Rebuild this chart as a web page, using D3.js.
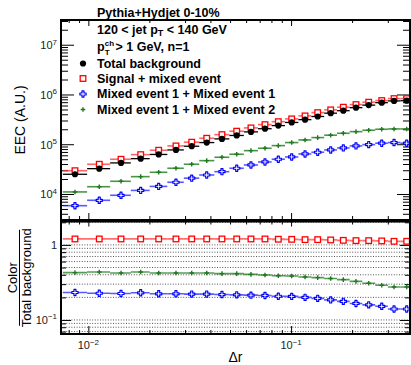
<!DOCTYPE html>
<html><head><meta charset="utf-8">
<script src="https://cdn.jsdelivr.net/npm/d3@7"></script>
<style>
body{margin:0;background:#fff}
svg{display:block}
text{font-family:"Liberation Sans",Arial,Helvetica,sans-serif}
</style>
</head><body>
<svg id="c" width="411" height="365"></svg>
<script>
// ---------- data ----------
const deltaR = [0.00859,0.01132,0.01449,0.01812,0.02223,0.02705,0.03235,0.03836,0.04561,0.05393,0.0634,0.07435,0.0865,0.1007,0.1172,0.1353,0.1568,0.181,0.209,0.2415,0.28,0.322,0.3718];
const totalBackground = [2.49e4,3.23e4,4.21e4,5.13e4,6.23e4,7.68e4,9.12e4,1.08e5,1.28e5,1.50e5,1.77e5,2.05e5,2.37e5,2.74e5,3.12e5,3.61e5,4.21e5,4.72e5,5.43e5,6.11e5,6.85e5,7.42e5,7.5e5];
const signalMixed = [2.94e4,3.96e4,4.99e4,6.18e4,7.57e4,9.25e4,1.10e5,1.32e5,1.56e5,1.83e5,2.13e5,2.48e5,2.84e5,3.23e5,3.71e5,4.32e5,4.90e5,5.55e5,6.26e5,7.00e5,7.54e5,8.27e5,8.27e5];
const mixed11 = [5.82e3,7.47e3,9.42e3,1.18e4,1.42e4,1.72e4,2.08e4,2.41e4,2.81e4,3.29e4,3.83e4,4.40e4,4.99e4,5.55e4,6.38e4,6.90e4,7.68e4,8.43e4,9.25e4,9.82e4,1.05e5,1.08e5,1.05e5];
const mixed12 = [1.10e4,1.40e4,1.80e4,2.23e4,2.73e4,3.29e4,3.96e4,4.68e4,5.47e4,6.29e4,7.43e4,8.31e4,9.38e4,1.08e5,1.22e5,1.36e5,1.52e5,1.66e5,1.79e5,1.91e5,2.00e5,2.03e5,2.03e5];
const ratioSignal = [1.20,1.20,1.20,1.20,1.20,1.20,1.20,1.20,1.20,1.20,1.20,1.20,1.19,1.186,1.175,1.175,1.164,1.15,1.14,1.14,1.13,1.116,1.116];
const ratioMixed11 = [0.232,0.227,0.225,0.230,0.223,0.223,0.221,0.221,0.218,0.216,0.214,0.212,0.207,0.206,0.200,0.194,0.185,0.177,0.166,0.159,0.152,0.140,0.140];
const ratioMixed12 = [0.427,0.435,0.422,0.435,0.422,0.422,0.422,0.422,0.414,0.414,0.405,0.397,0.389,0.385,0.373,0.366,0.356,0.345,0.327,0.308,0.290,0.275,0.275];
const legendLabels = ["Total background","Signal + mixed event","Mixed event 1 + Mixed event 1","Mixed event 1 + Mixed event 2"];
const titleText = "Pythia+Hydjet 0-10%";
const xMajorTicks = [0.01, 0.1];
const xTickExponents = ["\u22122", "\u22121"];
const yTopMajorTicks = [1e4, 1e5, 1e6, 1e7];
const yTopTickExponents = ["4", "5", "6", "7"];
const yBotMajorTicks = [0.1, 1];

// ---------- layout ----------
const L = 61, R = 410, T1 = 20, B1 = 220, T2 = 221.5, B2 = 334;
const svg = d3.select("#c");
const x = d3.scaleLog().domain([0.00733, 0.386]).range([L, R]);
const y1 = d3.scaleLog().domain([3000, 3.14e7]).range([B1, T1]);
const y2 = d3.scaleLog().domain([0.065, 2.05]).range([B2, T2]);

function minorTicks(domain) {
  const out = [];
  const lo = Math.floor(Math.log10(domain[0])), hi = Math.ceil(Math.log10(domain[1]));
  for (let d = lo; d <= hi; d++) for (let m = 1; m <= 9; m++) {
    const v = m * Math.pow(10, d);
    if (v >= domain[0] * 1.0001 && v <= domain[1] * 0.9999) out.push(v);
  }
  return out;
}
const xMin = minorTicks(x.domain());
const y1Min = minorTicks(y1.domain());
const y2Min = minorTicks(y2.domain());

const defs = svg.append("defs");
defs.append("clipPath").attr("id","clipTop").append("rect").attr("x",L).attr("y",T1).attr("width",R-L).attr("height",B1-T1);
defs.append("clipPath").attr("id","clipBot").append("rect").attr("x",L).attr("y",T2).attr("width",R-L).attr("height",B2-T2);

// ---------- grid (lower panel) ----------
svg.append("g").selectAll("line").data(y2Min).join("line")
  .attr("x1", L).attr("x2", R).attr("y1", d => y2(d)).attr("y2", d => y2(d))
  .attr("stroke", "#555").attr("stroke-width", 1).attr("stroke-dasharray", "1,1.6");

// ---------- ticks ----------
function drawTicks(axisFn, scale, values, size, transform) {
  const g = svg.append("g").attr("transform", transform)
    .call(axisFn(scale).tickValues(values).tickSize(size).tickSizeOuter(0).tickFormat(""));
  g.select(".domain").remove();
  g.selectAll("line").attr("stroke", "#000").attr("stroke-width", 1);
}
const isMajor = v => Math.abs(Math.log10(v) - Math.round(Math.log10(v))) < 1e-6;
// top panel
drawTicks(d3.axisLeft, y1, y1Min.filter(v=>!isMajor(v)), -7, `translate(${L},0)`);
drawTicks(d3.axisLeft, y1, y1Min.filter(isMajor), -13, `translate(${L},0)`);
drawTicks(d3.axisRight, y1, y1Min.filter(v=>!isMajor(v)), -7, `translate(${R},0)`);
drawTicks(d3.axisRight, y1, y1Min.filter(isMajor), -13, `translate(${R},0)`);
drawTicks(d3.axisBottom, x, xMin.filter(v=>!isMajor(v)), -4, `translate(0,${B1})`);
drawTicks(d3.axisBottom, x, xMin.filter(isMajor), -7, `translate(0,${B1})`);
drawTicks(d3.axisTop, x, xMin.filter(v=>!isMajor(v)), -3, `translate(0,${T1})`);
drawTicks(d3.axisTop, x, xMin.filter(isMajor), -6, `translate(0,${T1})`);
// lower panel
drawTicks(d3.axisLeft, y2, y2Min.filter(v=>!isMajor(v)), -5, `translate(${L},0)`);
drawTicks(d3.axisLeft, y2, y2Min.filter(isMajor), -10, `translate(${L},0)`);
drawTicks(d3.axisRight, y2, y2Min.filter(v=>!isMajor(v)), -5, `translate(${R},0)`);
drawTicks(d3.axisRight, y2, y2Min.filter(isMajor), -10, `translate(${R},0)`);
drawTicks(d3.axisTop, x, xMin.filter(v=>!isMajor(v)), -3, `translate(0,${T2})`);
drawTicks(d3.axisTop, x, xMin.filter(isMajor), -5, `translate(0,${T2})`);
drawTicks(d3.axisBottom, x, xMin.filter(v=>!isMajor(v)), -4, `translate(0,${B2})`);
drawTicks(d3.axisBottom, x, xMin.filter(isMajor), -8, `translate(0,${B2})`);

// ---------- bins ----------
const lc = deltaR.map(Math.log10);
const binLo = lc.map((v,i)=> Math.pow(10, i===0 ? v-(lc[1]-lc[0])/2 : (v+lc[i-1])/2));
const binHi = lc.map((v,i)=> Math.pow(10, i===lc.length-1 ? v+(v-lc[i-1])/2 : (v+lc[i+1])/2));

// ---------- markers ----------
const markers = {
  dot: (g,cx,cy) => g.append("circle").attr("cx",cx).attr("cy",cy).attr("r",3.1).attr("fill","#000"),
  square: (g,cx,cy) => g.append("rect").attr("x",cx-2.8).attr("y",cy-2.8).attr("width",5.6).attr("height",5.6)
      .attr("fill","#fff").attr("stroke","#ff0000").attr("stroke-width",1.3),
  openCross: (g,cx,cy) => {
    const h=3.1,a=1.0;
    const p=[[-a,-h],[a,-h],[a,-a],[h,-a],[h,a],[a,a],[a,h],[-a,h],[-a,a],[-h,a],[-h,-a],[-a,-a]];
    g.append("path").attr("d","M"+p.map(q=>(cx+q[0])+","+(cy+q[1])).join("L")+"Z")
      .attr("fill","#fff").attr("stroke","#0000ff").attr("stroke-width",1.2).attr("stroke-linejoin","round");
  },
  plus: (g,cx,cy) => g.append("path").attr("d",`M${cx-2.3},${cy}H${cx+2.3}M${cx},${cy-2.3}V${cy+2.3}`)
      .attr("stroke","#1e7a1e").attr("stroke-width",1.4)
};

function drawSeries(clip, yScale, values, barColor, barWidth, barOpacity, marker) {
  const g = svg.append("g").attr("clip-path", `url(#${clip})`);
  g.selectAll("line").data(values).join("line")
    .attr("x1",(d,i)=>x(binLo[i])).attr("x2",(d,i)=>x(binHi[i]))
    .attr("y1",d=>yScale(d)).attr("y2",d=>yScale(d))
    .attr("stroke",barColor).attr("stroke-width",barWidth).attr("stroke-opacity",barOpacity);
  values.forEach((d,i)=> markers[marker](g, x(deltaR[i]), yScale(d)));
}
// top panel
drawSeries("clipTop", y1, signalMixed, "#ff3030", 1.6, 0.75, "square");
drawSeries("clipTop", y1, mixed11, "#2020ff", 1.6, 0.75, "openCross");
drawSeries("clipTop", y1, mixed12, "#1e7a1e", 1.6, 0.8, "plus");
drawSeries("clipTop", y1, totalBackground, "#000", 1.3, 1, "dot");
// lower panel
drawSeries("clipBot", y2, ratioSignal, "#ff3030", 1.8, 0.7, "square");
drawSeries("clipBot", y2, ratioMixed12, "#1e7a1e", 1.6, 0.75, "plus");
drawSeries("clipBot", y2, ratioMixed11, "#2020ff", 1.6, 0.75, "openCross");

// ---------- frames ----------
svg.append("rect").attr("x",L).attr("y",T1).attr("width",R-L).attr("height",B1-T1)
  .attr("fill","none").attr("stroke","#000").attr("stroke-width",2);
svg.append("rect").attr("x",L).attr("y",T2).attr("width",R-L).attr("height",B2-T2)
  .attr("fill","none").attr("stroke","#000").attr("stroke-width",2);

// ---------- tick labels ----------
function powLabel(px, py, anchor, base, exp) {
  const t = svg.append("text").attr("x",px).attr("y",py).attr("text-anchor",anchor)
    .attr("font-size",11).attr("fill","#222");
  t.append("tspan").text(base);
  if (exp !== null) t.append("tspan").attr("font-size",8).attr("dy",-4.5).text(exp);
}
yTopMajorTicks.forEach((v,i)=> powLabel(57, y1(v)+4.5, "end", "10", yTopTickExponents[i]));
powLabel(57, y2(1)+4.5, "end", "1", null);
powLabel(57, y2(0.1)+4, "end", "10", "\u22121");
xMajorTicks.forEach((v,i)=> powLabel(x(v), 349, "middle", "10", xTickExponents[i]));

// ---------- axis titles ----------
svg.append("text").attr("transform",`translate(25,${(T1+B1)/2}) rotate(-90)`).attr("text-anchor","middle")
  .attr("font-size",14).text("EEC (A.U.)");
const cyB = (T2+B2)/2;
svg.append("text").attr("transform",`translate(16.5,${cyB}) rotate(-90)`).attr("text-anchor","middle")
  .attr("font-size",13).text("Color");
svg.append("line").attr("x1",19.5).attr("x2",19.5).attr("y1",cyB-48).attr("y2",cyB+48).attr("stroke","#000").attr("stroke-width",1);
svg.append("text").attr("transform",`translate(31,${cyB}) rotate(-90)`).attr("text-anchor","middle")
  .attr("font-size",13).text("Total background");
svg.append("text").attr("x",(L+R)/2).attr("y",362).attr("text-anchor","middle").attr("font-size",14).text("\u0394r");

// ---------- title & legend ----------
const bold = sel => sel.attr("font-size",12.5).attr("font-weight","bold").attr("fill","#000");
svg.append("text").attr("x",97).attr("y",17).call(bold).text(titleText);
const t2 = svg.append("text").attr("x",97).attr("y",33.5).call(bold);
t2.append("tspan").text("120 < jet p");
t2.append("tspan").attr("font-size",9).attr("dy",2.5).text("T");
t2.append("tspan").attr("dy",-2.5).text(" < 140 GeV");
const t3 = svg.append("text").attr("x",97).attr("y",50.5).call(bold);
t3.append("tspan").text("p");
t3.append("tspan").attr("x",104.8).attr("y",45.5).attr("font-size",8).text("ch");
t3.append("tspan").attr("x",104.8).attr("y",54.5).attr("font-size",8).text("T");
t3.append("tspan").attr("x",115.5).attr("y",50.5).text("> 1 GeV, n=1");

const legendMarkers = ["dot","square","openCross","plus"];
const legendBaselines = [67.5, 82.5, 98, 113.5];
legendLabels.forEach((lab,i)=>{
  const g = svg.append("g");
  markers[legendMarkers[i]](g, 83, legendBaselines[i]-4);
  svg.append("text").attr("x",97).attr("y",legendBaselines[i]).call(bold).text(lab);
});
</script>
</body></html>
